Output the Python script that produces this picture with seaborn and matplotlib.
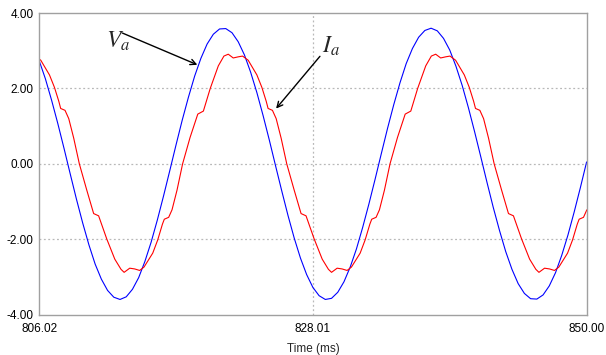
import numpy as np
import pandas as pd
import seaborn as sns
import matplotlib.pyplot as plt

# Va (blue) - sampled every 0.5 ms from 806.0 to 850.0
va_time = [806.0 + 0.5 * i for i in range(89)]
va_values = [2.74, 2.26, 1.69, 1.07, 0.41, -0.27, -0.94, -1.57, -2.15, -2.66,
             -3.06, -3.36, -3.54, -3.60, -3.53, -3.33, -3.02, -2.59, -2.08, -1.49,
             -0.85, -0.18, 0.50, 1.16, 1.77, 2.33, 2.80, 3.18, 3.44, 3.58,
             3.59, 3.48, 3.24, 2.89, 2.43, 1.89, 1.28, 0.63, -0.05, -0.72,
             -1.37, -1.97, -2.50, -2.94, -3.28, -3.50, -3.60, -3.57, -3.41, -3.13,
             -2.74, -2.26, -1.69, -1.07, -0.41, 0.27, 0.94, 1.57, 2.15, 2.66,
             3.06, 3.36, 3.54, 3.60, 3.53, 3.33, 3.02, 2.59, 2.08, 1.49,
             0.85, 0.18, -0.50, -1.16, -1.77, -2.33, -2.80, -3.18, -3.44, -3.58,
             -3.59, -3.48, -3.24, -2.89, -2.43, -1.89, -1.28, -0.63, 0.05]

# Ia (red) - read at the corners of the stepped waveform
ia_time = [805.68, 806.13, 806.83, 807.23, 807.58, 807.73, 808.08, 808.38, 808.78, 809.23,
           809.83, 810.38, 810.78, 811.43, 812.08, 812.58, 812.83, 813.28, 813.68, 814.08,
           814.43, 815.13, 815.53, 815.91, 816.06, 816.41, 816.68, 817.08, 817.53, 818.13,
           818.75, 819.20, 819.75, 820.40, 820.85, 821.20, 821.60, 822.00, 822.35, 822.80,
           823.50, 823.90, 824.25, 824.40, 824.75, 825.05, 825.45, 825.90, 826.50, 827.05,
           827.45, 828.10, 828.75, 829.25, 829.50, 829.95, 830.35, 830.75, 831.10, 831.80,
           832.20, 832.58, 832.73, 833.08, 833.35, 833.75, 834.20, 834.80,
           835.42, 835.87, 836.42, 837.07, 837.52, 837.87, 838.27, 838.67, 839.02, 839.47,
           840.17, 840.57, 840.92, 841.07, 841.42, 841.72, 842.12, 842.57, 843.17, 843.72,
           844.12, 844.77, 845.42, 845.92, 846.17, 846.62, 847.02, 847.42, 847.77, 848.47,
           848.87, 849.25, 849.40, 849.75, 850.02]
ia_values = [2.86, 2.75, 2.36, 2.03, 1.66, 1.47, 1.42, 1.20, 0.68, 0.00,
             -0.70, -1.32, -1.38, -1.99, -2.53, -2.80, -2.88, -2.77, -2.79, -2.83,
             -2.74, -2.37, -2.02, -1.60, -1.47, -1.42, -1.22, -0.70, 0.00, 0.70,
             1.32, 1.40, 2.00, 2.60, 2.86, 2.91, 2.81, 2.84, 2.86, 2.75,
             2.36, 2.03, 1.66, 1.47, 1.42, 1.20, 0.68, 0.00, -0.70, -1.32,
             -1.38, -1.99, -2.53, -2.80, -2.88, -2.77, -2.79, -2.83, -2.74, -2.37,
             -2.02, -1.60, -1.47, -1.42, -1.22, -0.70, 0.00, 0.70,
             1.32, 1.40, 2.00, 2.60, 2.86, 2.91, 2.81, 2.84, 2.86, 2.75,
             2.36, 2.03, 1.66, 1.47, 1.42, 1.20, 0.68, 0.00, -0.70, -1.32,
             -1.38, -1.99, -2.53, -2.80, -2.88, -2.77, -2.79, -2.83, -2.74, -2.37,
             -2.02, -1.60, -1.47, -1.42, -1.22]

x_ticks = [806.02, 828.01, 850.00]
y_ticks = [-4.0, -2.0, 0.0, 2.0, 4.0]

df = pd.concat([
    pd.DataFrame({'t': va_time, 'v': va_values, 's': 'Va'}),
    pd.DataFrame({'t': ia_time, 'v': ia_values, 's': 'Ia'}),
])

sns.set_style('white')
plt.rcParams['font.family'] = ['Liberation Sans', 'DejaVu Sans']
plt.rcParams['mathtext.fontset'] = 'stix'

fig = plt.figure(figsize=(6.06, 3.55), dpi=100)
ax = fig.add_axes([0.065, 0.114, 0.903, 0.849])

sns.lineplot(data=df, x='t', y='v', hue='s', palette={'Va': '#0000ff', 'Ia': '#ff0000'},
             estimator=None, sort=False, linewidth=0.8, legend=False, ax=ax)

ax.set_xlim(806.02, 850.00)
ax.set_ylim(-4, 4)
ax.set_xticks(x_ticks)
ax.set_xticklabels(['%.2f' % v for v in x_ticks])
ax.set_yticks(y_ticks)
ax.set_yticklabels(['%.2f' % v for v in y_ticks])
ax.tick_params(length=0, labelsize=8.5, colors='black')
ax.tick_params(axis='x', pad=6)
ax.tick_params(axis='y', pad=4)
ax.set_xlabel('Time (ms)', fontsize=8.5, labelpad=6)
ax.set_ylabel('')

# dotted grid only at inner positions
for y in [-2, 0, 2]:
    ax.axhline(y, color='#b8b8b8', lw=0.9, ls=(0, (1.5, 2)), zorder=0)
ax.axvline(828.01, color='#b8b8b8', lw=0.9, ls=(0, (1.5, 2)), zorder=0)

for sp in ax.spines.values():
    sp.set_color('#a0a0a0')
    sp.set_linewidth(1.0)

# labels with arrows
ax.text(811.37, 3.09, r'$V_a$', fontsize=17, va='baseline', ha='left')
ax.annotate('', xy=(818.92, 2.60), xytext=(812.49, 3.50),
            arrowprops=dict(arrowstyle='->', color='black', lw=1.0))
ax.text(828.75, 2.95, r'$I_a$', fontsize=17, va='baseline', ha='left')
ax.annotate('', xy=(824.90, 1.41), xytext=(828.71, 2.91),
            arrowprops=dict(arrowstyle='->', color='black', lw=1.0))

fig.savefig('out.png', dpi=100)
